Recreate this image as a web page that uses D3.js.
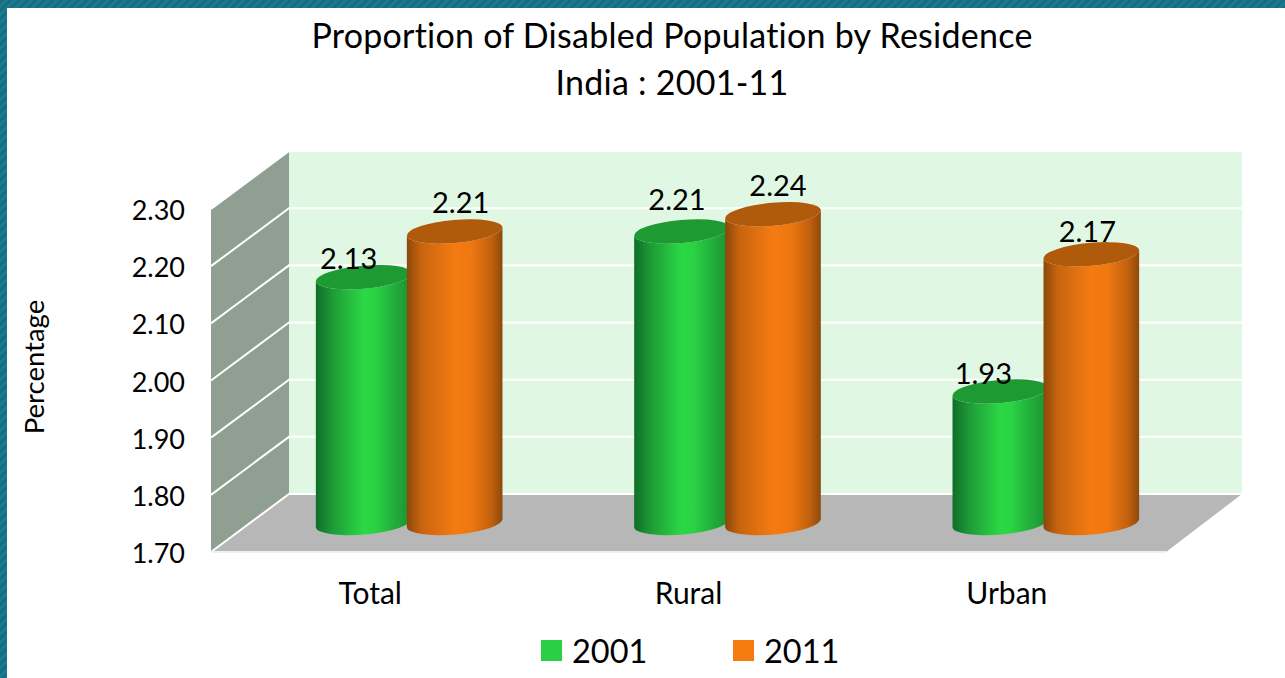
<!DOCTYPE html>
<html>
<head>
<meta charset="utf-8">
<script src="https://cdn.jsdelivr.net/npm/d3@7"></script>
<style>
  html, body { margin: 0; padding: 0; background: #fff; }
  svg { display: block; }
  text { font-family: Lato, "Open Sans", sans-serif; fill: #000; font-variant-ligatures: none; }
</style>
</head>
<body>
<svg id="chart" width="1285" height="678"></svg>
<script>
const categories = ["Total", "Rural", "Urban"];
const series = ["2001", "2011"];
const values2001 = [2.13, 2.21, 1.93];
const values2011 = [2.21, 2.24, 2.17];
const yTicks = [1.7, 1.8, 1.9, 2.0, 2.1, 2.2, 2.3];
const titleLines = ["Proportion of Disabled Population by Residence", "India : 2001-11"];

// hand moved data labels in the original, [dx, dy] from the top of each bar
const labelNudge2001 = [[-15, -18], [-5, -32], [-17, -18]];
const labelNudge2011 = [[6, -29], [5, -28], [-4, -22]];

const svg = d3.select("#chart");
const defs = svg.append("defs");

const frame = { left: 211, right: 1166, bottom: 552, top: 209 };
const depth = { x: 78, y: -58 };
const backRight = 1242;

const x = d3.scaleBand().domain(categories).range([frame.left, frame.right]);
const y = d3.scaleLinear().domain([1.7, 2.3]).range([frame.bottom, frame.top]);
const inner = d3.scalePoint().domain(series).range([-45.5, 45.5]);

// striped slide border
const stripes = defs.append("pattern")
  .attr("id", "stripes")
  .attr("width", 6).attr("height", 6)
  .attr("patternUnits", "userSpaceOnUse")
  .attr("patternTransform", "rotate(45)");
stripes.append("rect").attr("width", 6).attr("height", 6).attr("fill", "#1a7a8e");
stripes.append("rect").attr("width", 3).attr("height", 6).attr("fill", "#176c7e");

svg.append("rect").attr("width", 1285).attr("height", 8).attr("fill", "url(#stripes)");
svg.append("rect").attr("width", 7).attr("height", 678).attr("fill", "url(#stripes)");

// cylinder shading
function addGradient(id, stops) {
  const g = defs.append("linearGradient").attr("id", id);
  stops.forEach(s => g.append("stop").attr("offset", s[0]).attr("stop-color", s[1]));
}
addGradient("green", [[0, "#0f6e28"], [0.18, "#1e9c36"], [0.5, "#2bd845"], [0.62, "#2ad244"], [0.88, "#1fa338"], [1, "#1b9331"]]);
addGradient("orange", [[0, "#8a480b"], [0.15, "#c8640f"], [0.5, "#f57b11"], [0.68, "#ee7710"], [0.88, "#c2610e"], [1, "#8c4a0b"]]);

const poly = pts => "M" + pts.map(p => p.join(",")).join("L") + "Z";

// back wall
svg.append("rect")
  .attr("x", frame.left + depth.x)
  .attr("y", y(2.3) + depth.y)
  .attr("width", backRight - frame.left - depth.x)
  .attr("height", y(1.7) - y(2.3))
  .attr("fill", "#e0f8e3");

// side wall
svg.append("path")
  .attr("d", poly([
    [frame.left, y(1.7)],
    [frame.left + depth.x, y(1.7) + depth.y],
    [frame.left + depth.x, y(2.3) + depth.y],
    [frame.left, y(2.3)]
  ]))
  .attr("fill", "#8f9f92");

// floor
svg.append("path")
  .attr("d", poly([
    [frame.left, y(1.7)],
    [frame.left + depth.x, y(1.7) + depth.y],
    [backRight, y(1.7) + depth.y],
    [frame.right, y(1.7)]
  ]))
  .attr("fill", "#b7b7b7");

// gridlines
const grid = svg.append("g").attr("stroke", "#fff").attr("stroke-width", 2).attr("fill", "none");
grid.selectAll("path.grid")
  .data(yTicks)
  .join("path")
  .attr("class", "grid")
  .attr("d", d => {
    const back = y(d) + depth.y;
    return `M${frame.left},${y(d)}L${frame.left + depth.x},${back}L${backRight},${back}`;
  });
grid.append("path")
  .attr("d", `M${frame.left},${y(1.7)}L${frame.right},${y(1.7)}`)
  .attr("stroke", "#f0f0f0");

// cylinders
const rx = 48, ry = 11.5, tilt = -5;
const sx = rx * Math.cos(tilt * Math.PI / 180);
const sy = rx * Math.sin(tilt * Math.PI / 180);
const baseY = y(1.7) + depth.y / 2;
const barTop = v => baseY - (y(1.7) - y(v));

function drawSeries(name, values, fillId, topColor) {
  const g = svg.append("g").attr("class", "series-" + name);
  const cx = (d, i) => x(categories[i]) + x.bandwidth() / 2 + depth.x / 2 + inner(name);

  g.selectAll("path.body")
    .data(values)
    .join("path")
    .attr("class", "body")
    .attr("fill", `url(#${fillId})`)
    .attr("d", (d, i) => {
      const c = cx(d, i), t = barTop(d);
      return `M${c - sx},${t - sy}L${c - sx},${baseY - sy}` +
        `A${rx},${ry} ${tilt} 0 0 ${c + sx},${baseY + sy}` +
        `L${c + sx},${t + sy}` +
        `A${rx},${ry} ${tilt} 0 1 ${c - sx},${t - sy}Z`;
    });

  g.selectAll("ellipse")
    .data(values)
    .join("ellipse")
    .attr("rx", rx).attr("ry", ry)
    .attr("fill", topColor)
    .attr("transform", (d, i) => `translate(${cx(d, i)},${barTop(d)}) rotate(${tilt})`);
}
drawSeries("2001", values2001, "green", "#1f9a33");
drawSeries("2011", values2011, "orange", "#b05a0c");

// data labels go on top of every bar
function drawLabels(name, values, nudge) {
  svg.append("g").selectAll("text")
    .data(values)
    .join("text")
    .attr("x", (d, i) => x(categories[i]) + x.bandwidth() / 2 + depth.x / 2 + inner(name) + nudge[i][0])
    .attr("y", (d, i) => barTop(d) + nudge[i][1])
    .attr("text-anchor", "middle")
    .attr("dy", "0.35em")
    .attr("font-size", 29)
    .text(d => d3.format(".2f")(d));
}
drawLabels("2001", values2001, labelNudge2001);
drawLabels("2011", values2011, labelNudge2011);

// axes
const yAxis = svg.append("g")
  .attr("transform", `translate(${frame.left - 26},2)`)
  .call(d3.axisLeft(y).tickValues(yTicks).tickFormat(d3.format(".2f")).tickSize(0).tickPadding(0));
const xAxis = svg.append("g")
  .attr("transform", `translate(0,${frame.bottom + 31})`)
  .call(d3.axisBottom(x).tickSize(0).tickPadding(0));
yAxis.select(".domain").remove();
xAxis.select(".domain").remove();
yAxis.selectAll("text").attr("font-size", 27).style("font-family", "Lato");
xAxis.selectAll("text").attr("font-size", 30).style("font-family", "Lato");

svg.append("text")
  .attr("transform", "translate(34,367) rotate(-90)")
  .attr("text-anchor", "middle")
  .attr("dy", "0.35em")
  .attr("font-size", 27.5)
  .text("Percentage");

// title
svg.append("g").selectAll("text")
  .data(titleLines)
  .join("text")
  .attr("x", 672)
  .attr("y", (d, i) => 48 + i * 47)
  .attr("text-anchor", "middle")
  .attr("font-size", 34)
  .attr("letter-spacing", 0.25)
  .text(d => d);

// legend
const legendX = d3.scalePoint().domain(series).range([541, 733]);
const legendColors = d3.scaleOrdinal().domain(series).range(["#2bcf45", "#f57b11"]);
const legend = svg.append("g").selectAll("g")
  .data(series)
  .join("g")
  .attr("transform", d => `translate(${legendX(d)},640)`);
legend.append("rect")
  .attr("width", 21).attr("height", 21)
  .attr("fill", d => legendColors(d));
legend.append("text")
  .attr("x", 31).attr("y", 23)
  .attr("font-size", 32.5)
  .text(d => d);
</script>
</body>
</html>
